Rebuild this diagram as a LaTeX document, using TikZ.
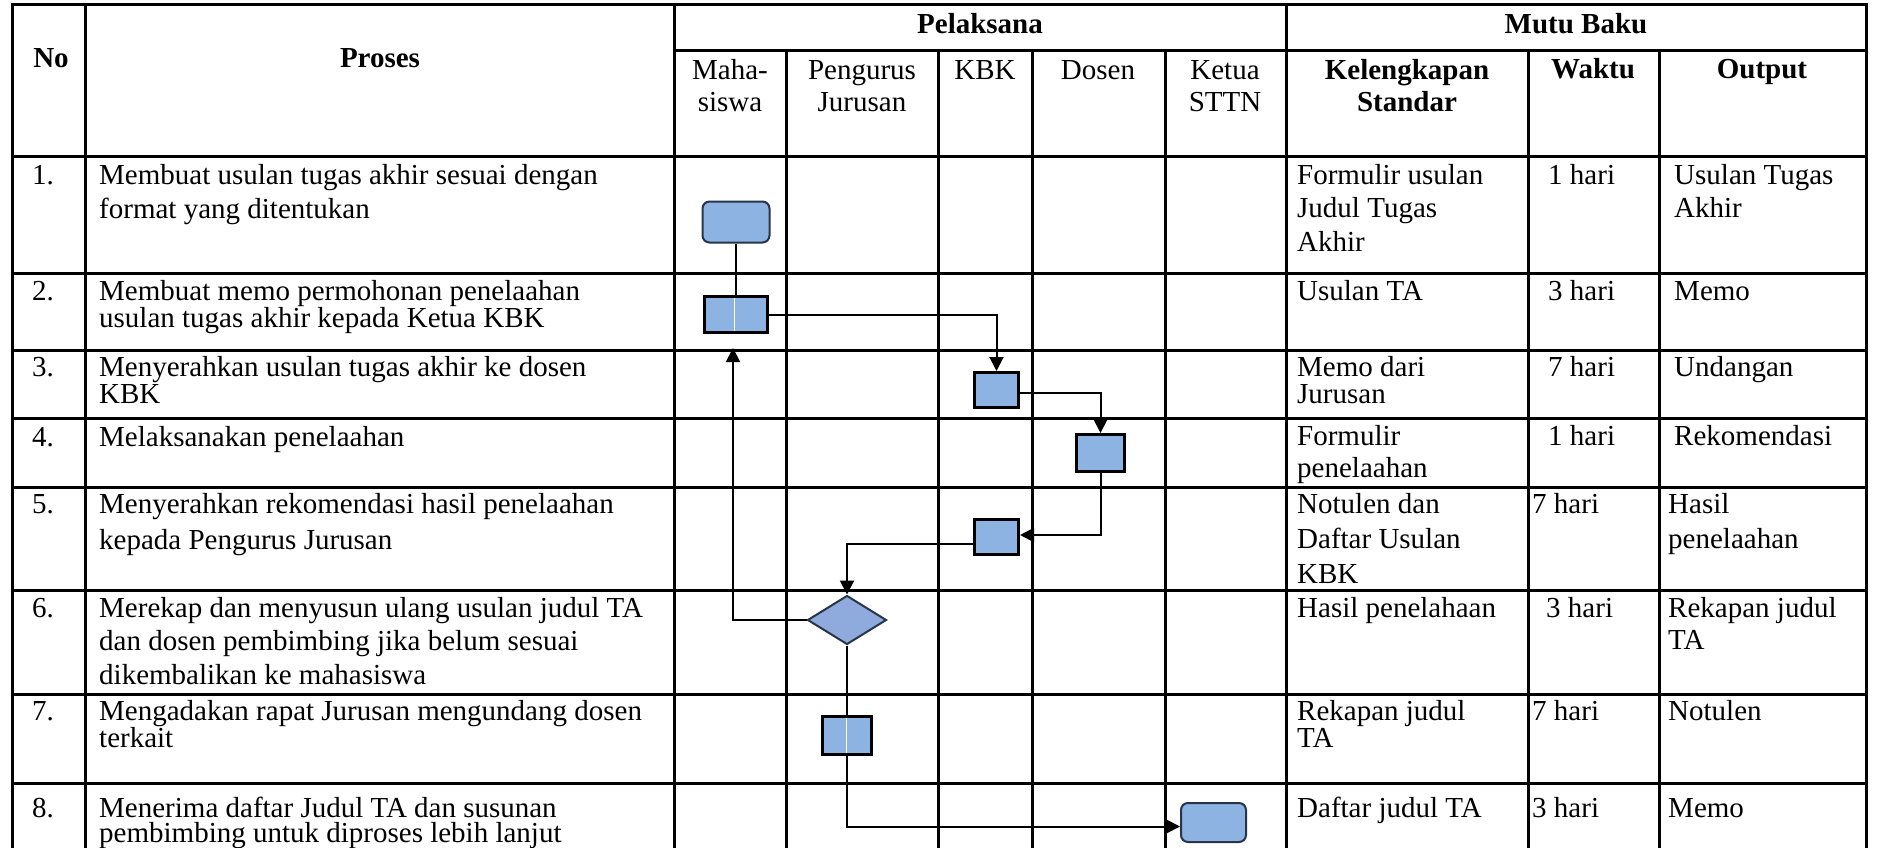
\documentclass[tikz,border=0pt]{standalone}
\usepackage{fontspec}
\setmainfont{Liberation Serif}
\usepackage{tikz}
\usetikzlibrary{positioning}
\usetikzlibrary{shapes.geometric}
\usetikzlibrary{arrows.meta}
\definecolor{boxblue}{RGB}{141,179,226}
\definecolor{diablue}{RGB}{143,170,220}
\definecolor{edgenavy}{RGB}{40,52,72}
\tikzset{>={Triangle[length=14pt,width=14pt]}}

\begin{document}
\begin{tikzpicture}[x=1pt, y=-1pt,
    font=\fontsize{29}{33}\selectfont,
    tline/.style={line width=3pt, line cap=rect},
    link/.style={line width=2pt},
    terminal/.style={rectangle, rounded corners=7pt, fill=boxblue, draw=edgenavy,
        line width=2pt, inner sep=0pt},
    proc/.style={rectangle, fill=boxblue, draw=black, line width=3pt, inner sep=0pt},
    decide/.style={diamond, fill=diablue, draw=edgenavy, line width=2pt, inner sep=0pt},
    cell/.style={anchor=base west, align=left, inner sep=0pt},
    lsep/.style={font=\fontsize{29}{#1}\selectfont},
    col/.style={anchor=base, align=center, inner sep=0pt, font=\fontsize{29}{32}\selectfont},
    head/.style={col, font=\fontsize{29}{32}\selectfont\bfseries}]

% Page
\fill[white] (0,0) rectangle (1877,848);
\useasboundingbox (0,0) rectangle (1877,848);

% Table rules
\draw[tline] (12,5) -- (1866,5) (674,51) -- (1866,51) (12,157) -- (1866,157)
    (12,273) -- (1866,273) (12,350) -- (1866,350) (12,418) -- (1866,418)
    (12,487) -- (1866,487) (12,590) -- (1866,590) (12,694) -- (1866,694)
    (12,783) -- (1866,783);
\draw[tline] (12,5) -- (12,860) (85,5) -- (85,860) (674,5) -- (674,860)
    (1286,5) -- (1286,860) (1866,5) -- (1866,860);
\draw[tline] (786,51) -- (786,860) (938,51) -- (938,860) (1032,51) -- (1032,860)
    (1165,51) -- (1165,860) (1528,51) -- (1528,860) (1659,51) -- (1659,860);

% Header (multi-line nodes sit on the baseline of their last line)
\node[head] (hNo) at (51,68) {No};
\node[head] (hProses) at (380,68) {Proses};
\node[head] (hPel) at (980,34) {Pelaksana};
\node[head] (hMutu) at (1576,34) {Mutu Baku};
\node[col] (hMaha) at (730,112) {Maha-\\siswa};
\node[col] (hPeng) at (862,112) {Pengurus\\Jurusan};
\node[col] (hKbk) at (985,80) {KBK};
\node[col] (hDosen) at (1098,80) {Dosen};
\node[col] (hKetua) at (1225,112) {Ketua\\STTN};
\node[head] (hKel) at (1407,112) {Kelengkapan\\Standar};
\node[head] (hWaktu) at (1593,79) {Waktu};
\node[head] (hOut) at (1762,79) {Output};

% Row 1
\node[cell] (no1) at (32,185) {1.};
\node[cell] (pr1) at (99,218) {Membuat usulan tugas akhir sesuai dengan\\format yang ditentukan};
\node[cell, lsep=33.5] (kl1) at (1297,251) {Formulir usulan\\Judul Tugas\\Akhir};
\node[cell] (wk1) at (1548,184) {1 hari};
\node[cell] (op1) at (1674,217) {Usulan Tugas\\Akhir};

% Row 2
\node[cell] (no2) at (32,300) {2.};
\node[cell, lsep=27] (pr2) at (99,327) {Membuat memo permohonan penelaahan\\usulan tugas akhir kepada Ketua KBK};
\node[cell] (kl2) at (1297,300) {Usulan TA};
\node[cell] (wk2) at (1548,300) {3 hari};
\node[cell] (op2) at (1674,300) {Memo};

% Row 3
\node[cell] (no3) at (32,376) {3.};
\node[cell, lsep=27] (pr3) at (99,403) {Menyerahkan usulan tugas akhir ke dosen\\KBK};
\node[cell, lsep=27] (kl3) at (1297,403) {Memo dari\\Jurusan};
\node[cell] (wk3) at (1548,376) {7 hari};
\node[cell] (op3) at (1674,376) {Undangan};

% Row 4
\node[cell] (no4) at (32,446) {4.};
\node[cell] (pr4) at (99,446) {Melaksanakan penelaahan};
\node[cell, lsep=32] (kl4) at (1297,477) {Formulir\\penelaahan};
\node[cell] (wk4) at (1548,445) {1 hari};
\node[cell] (op4) at (1674,445) {Rekomendasi};

% Row 5
\node[cell] (no5) at (32,513) {5.};
\node[cell, lsep=36] (pr5) at (99,549) {Menyerahkan rekomendasi hasil penelaahan\\kepada Pengurus Jurusan};
\node[cell, lsep=35] (kl5) at (1297,583) {Notulen dan\\Daftar Usulan\\KBK};
\node[cell] (wk5) at (1532,513) {7 hari};
\node[cell, lsep=35] (op5) at (1668,548) {Hasil\\penelaahan};

% Row 6
\node[cell] (no6) at (32,617) {6.};
\node[cell, lsep=33.5] (pr6) at (99,684) {Merekap dan menyusun ulang usulan judul TA\\dan dosen pembimbing jika belum sesuai\\dikembalikan ke mahasiswa};
\node[cell] (kl6) at (1297,617) {Hasil penelahaan};
\node[cell] (wk6) at (1546,617) {3 hari};
\node[cell, lsep=32] (op6) at (1668,649) {Rekapan judul\\TA};

% Row 7
\node[cell] (no7) at (32,720) {7.};
\node[cell, lsep=27] (pr7) at (99,747) {Mengadakan rapat Jurusan mengundang dosen\\terkait};
\node[cell, lsep=27] (kl7) at (1297,747) {Rekapan judul\\TA};
\node[cell] (wk7) at (1532,720) {7 hari};
\node[cell] (op7) at (1668,720) {Notulen};

% Row 8
\node[cell] (no8) at (32,817) {8.};
\node[cell, lsep=25.5] (pr8) at (99,842.5) {Menerima daftar Judul TA dan susunan\\pembimbing untuk diproses lebih lanjut};
\node[cell] (kl8) at (1297,817) {Daftar judul TA};
\node[cell] (wk8) at (1532,817) {3 hari};
\node[cell] (op8) at (1668,817) {Memo};

% Flow symbols
\node[terminal, minimum width=67pt, minimum height=41pt] (usulan) at (736,222) {};
\node[proc, minimum width=63pt, minimum height=36pt] (memo) at (736,314.5) {};
\node[proc, minimum width=44pt, minimum height=35pt] (serah) at (996.5,390) {};
\node[proc, minimum width=48pt, minimum height=37pt] (telaah) at (1100.5,453) {};
\node[proc, minimum width=44pt, minimum height=35pt] (rekom) at (996.5,537) {};
\node[decide, minimum width=79pt, minimum height=49pt] (cek) at (847,620) {};
\node[proc, minimum width=49pt, minimum height=38pt] (rapat) at (847,735.5) {};
\node[terminal, minimum width=65pt, minimum height=39pt] (terima) at (1213.5,822.5) {};

% Connectors
\draw[link] (usulan.south) -- (memo.north);
\draw[link, ->] (memo.east) -| (serah.north);
\draw[link, ->] ([yshift=-3pt]serah.east) -| (telaah.north);
\draw[link, ->] (telaah.south) |- ([yshift=2pt]rekom.east);
\draw[link, ->] ([yshift=-7pt]rekom.west) -| (cek.north);
\draw[link, ->, shorten >=14pt] (cek.west) -| ([xshift=-3pt]memo.south);
\draw[link] (cek.south) -- (rapat.north);
\draw[link, ->] (rapat.south) |- ([yshift=-4pt]terima.west);

% Seams left inside two boxes
\draw[white, line width=1pt, shorten <=3pt, shorten >=3pt] ([xshift=-2pt]memo.north) -- ([xshift=-2pt]memo.south);
\draw[white, line width=1pt, shorten <=3pt, shorten >=3pt] ([xshift=-1pt]rapat.north) -- ([xshift=-1pt]rapat.south);
\end{tikzpicture}
\end{document}
